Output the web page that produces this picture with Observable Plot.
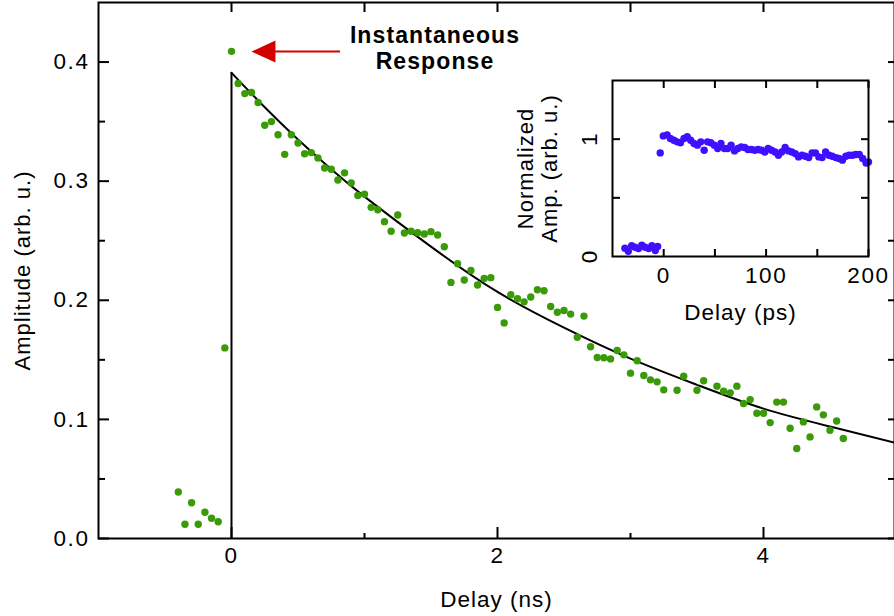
<!DOCTYPE html>
<html>
<head>
<meta charset="utf-8">
<script src="https://cdn.jsdelivr.net/npm/d3@7"></script>
<script src="https://cdn.jsdelivr.net/npm/@observablehq/plot@0.6"></script>
<style>
  html, body { margin: 0; padding: 0; background: #fff; }
  #wrap { position: relative; width: 894px; height: 616px; overflow: hidden; }
  #inset { position: absolute; left: 500px; top: 60px; }
  svg text { letter-spacing: 1px; }
  svg .annot text { letter-spacing: 1.1px; }
  svg .ticklab text { letter-spacing: 1.6px; }
</style>
</head>
<body>
<div id="wrap"><div id="main"></div><div id="inset"></div></div>
<script>
// ---------- main data (Delay in ns, Amplitude in arb. u.) ----------
const mainDelay = [-0.40,-0.35,-0.30,-0.25,-0.20,-0.15,-0.10,-0.05,0.00,0.05,0.10,0.15,0.20,0.25,0.30,0.35,0.40,0.45,0.50,0.55,0.60,0.65,0.70,0.75,0.80,0.85,0.90,0.95,1.00,1.05,1.10,1.15,1.20,1.25,1.30,1.35,1.40,1.45,1.50,1.55,1.60,1.65,1.70,1.75,1.80,1.85,1.90,1.95,2.00,2.05,2.10,2.15,2.20,2.25,2.30,2.35,2.40,2.45,2.50,2.55,2.60,2.65,2.70,2.75,2.80,2.85,2.90,2.95,3.00,3.05,3.10,3.15,3.20,3.25,3.35,3.40,3.50,3.55,3.65,3.70,3.75,3.80,3.85,3.90,3.95,4.00,4.05,4.10,4.15,4.20,4.25,4.30,4.35,4.40,4.45,4.50,4.55,4.60];
const mainAmp = [0.039,0.012,0.030,0.012,0.022,0.017,0.014,0.160,0.409,0.382,0.3735,0.3745,0.366,0.347,0.350,0.339,0.3225,0.339,0.332,0.323,0.324,0.3195,0.311,0.310,0.301,0.307,0.2985,0.288,0.289,0.278,0.276,0.266,0.258,0.2716,0.2565,0.258,0.2567,0.2556,0.2576,0.2548,0.245,0.215,0.2307,0.217,0.225,0.2128,0.2183,0.219,0.194,0.181,0.2046,0.2013,0.1987,0.2027,0.2088,0.208,0.1948,0.190,0.1914,0.1884,0.169,0.1867,0.161,0.152,0.1517,0.1508,0.1578,0.1542,0.1388,0.1492,0.1368,0.1332,0.1315,0.1248,0.1245,0.1363,0.1245,0.1324,0.1279,0.1237,0.1223,0.1279,0.1133,0.1166,0.1052,0.1052,0.0973,0.1145,0.1145,0.0926,0.0755,0.0979,0.0853,0.1105,0.1038,0.0909,0.0987,0.0839];

// fit curve
const fitDelay = [0,0.25,0.5,0.75,1,1.5,2,2.5,3,3.5,4,4.5,5];
const fitAmp   = [0.391,0.362,0.335,0.310,0.287,0.245,0.207,0.177,0.151,0.129,0.109,0.094,0.080];

// axes ticks
const xMajor = [0, 2, 4];
const xMinor = [1, 3];
const xTop = [0, 1, 2, 3, 4];
const yMajor = [0, 0.1, 0.2, 0.3, 0.4];
const yMinor = [0.05, 0.15, 0.25, 0.35];

// annotation
const annotLines = ["Instantaneous", "Response"];
const annotX = 1.53;
const annotY = [0.4221, 0.4003];
const arrowY = 0.4088;
const arrowHeadX = 0.24;
const arrowShaft = [0.30, 0.82];

// ---------- inset data (Delay in ps, Normalized amplitude) ----------
const insetDelay = [-37.9,-34.6,-31.3,-28,-24.6,-21.4,-18.1,-14.7,-11.5,-8.2,-5.9,-3.4,-0.4,3.3,6.5,9.9,13.1,16.4,19.8,23,26.3,29.6,32.9,36.2,39.5,42.8,46,49.4,52.7,55.9,59.3,62.5,65.8,69.2,72.4,75.7,79,82.3,85.6,88.9,92.2,95.4,98.8,102,105.3,108.7,112,115.2,118.6,121.8,125.1,128.5,131.7,135,138.3,141.6,144.9,148.2,151.5,154.7,158.1,161.4,164.6,168,171.2,174.5,177.9,181.1,184.4,187.7,191,194.3,197.6,200];
const insetAmp = [0.071,0.045,0.091,0.079,0.068,0.097,0.079,0.068,0.091,0.051,0.085,0.883,1.028,1.037,1.006,0.991,0.977,0.969,1.006,1.02,0.991,0.963,0.949,0.977,0.906,0.977,0.969,0.949,0.92,0.963,0.92,0.92,0.949,0.9,0.92,0.934,0.929,0.912,0.912,0.906,0.912,0.906,0.891,0.92,0.906,0.891,0.863,0.891,0.929,0.9,0.891,0.877,0.849,0.863,0.855,0.843,0.883,0.883,0.849,0.843,0.891,0.863,0.855,0.843,0.835,0.821,0.855,0.863,0.863,0.869,0.869,0.835,0.797,0.806];
const insetXTicks = [0, 50, 100, 150, 200];
const insetXLabels = [0, 100, 200];
const insetYTicks = [0.5, 1];
const insetYLabels = [0, 1];

// ---------- build ----------
const FONT = "'Liberation Sans', Arial, Helvetica, sans-serif";
const mainData = mainDelay.map((x, i) => ({x, y: mainAmp[i]}));
const fitData = fitDelay.map((x, i) => ({x, y: fitAmp[i]}));
const blank = () => "";
const RED = "#d40000";
const arrowHead = {
  draw(ctx) { ctx.moveTo(-12, 0); ctx.lineTo(12, -11); ctx.lineTo(12, 11); ctx.closePath(); }
};

const main = Plot.plot({
  width: 894, height: 616,
  marginLeft: 98, marginRight: 0, marginTop: 2, marginBottom: 78,
  x: {domain: [-1, 4.985], label: null},
  y: {domain: [0, 0.45], label: null},
  style: {fontFamily: FONT, fontSize: "22px", color: "#000", background: "transparent", overflow: "visible"},
  marks: [
    Plot.ruleX([fitData[0]], {x: "x", y1: 0, y2: "y", stroke: "#000", strokeWidth: 2}),
    Plot.line(fitData, {x: "x", y: "y", curve: "natural", stroke: "#000", strokeWidth: 2}),
    Plot.dot(mainData, {x: "x", y: "y", r: 3.7, fill: "#3a9a08", stroke: "none"}),
    Plot.frame({stroke: "#000", strokeWidth: 2}),
    Plot.axisY(yMajor, {anchor: "left", tickSize: -11, tickPadding: 20, tickFormat: d => d.toFixed(1), label: null, strokeWidth: 2, fontSize: 22.5, className: "ticklab"}),
    Plot.axisY(yMinor, {anchor: "left", tickSize: -7, tickFormat: blank, label: null, strokeWidth: 2}),
    Plot.axisY(yMajor.concat(yMinor), {anchor: "right", tickSize: -7, tickFormat: blank, label: null, strokeWidth: 2}),
    Plot.axisX(xMajor, {anchor: "bottom", tickSize: -11, tickPadding: 20, tickFormat: d => String(d), label: null, strokeWidth: 2, fontSize: 22.5, className: "ticklab"}),
    Plot.axisX(xMinor, {anchor: "bottom", tickSize: -5, tickFormat: blank, label: null, strokeWidth: 2}),
    Plot.axisX(xTop, {anchor: "top", tickSize: -9, tickFormat: blank, label: null, strokeWidth: 2}),
    Plot.text(["Delay (ns)"], {frameAnchor: "bottom", dy: 61, lineAnchor: "middle", fontSize: 22.5}),
    Plot.text(["Amplitude (arb. u.)"], {frameAnchor: "left", dx: -76, rotate: -90, lineAnchor: "middle", textAnchor: "middle", fontSize: 22}),
    Plot.ruleY([arrowY], {x1: arrowShaft[0], x2: arrowShaft[1], stroke: RED, strokeWidth: 2}),
    Plot.dot([{x: arrowHeadX, y: arrowY}], {x: "x", y: "y", symbol: arrowHead, r: 1, fill: RED, stroke: "none"}),
    Plot.text(annotLines, {x: annotX, y: (d, i) => annotY[i], text: d => d, fontWeight: "bold", fontSize: 23, lineAnchor: "middle", className: "annot"})
  ]
});
document.getElementById("main").appendChild(main);

const insetData = insetDelay.map((x, i) => ({x, y: insetAmp[i]}));
const inset = Plot.plot({
  width: 394, height: 280,
  marginLeft: 112, marginRight: 26, marginTop: 20, marginBottom: 84,
  x: {domain: [-50, 200], label: null},
  y: {domain: [0, 1.5], label: null},
  style: {fontFamily: FONT, fontSize: "22px", color: "#000", background: "transparent", overflow: "visible"},
  marks: [
    Plot.dot(insetData, {x: "x", y: "y", r: 3.7, fill: "#3f10ff", stroke: "none"}),
    Plot.frame({stroke: "#000", strokeWidth: 2}),
    Plot.axisX(insetXTicks, {anchor: "bottom", tickSize: -7, tickFormat: blank, label: null, strokeWidth: 2}),
    Plot.axisX(insetXTicks, {anchor: "top", tickSize: -7, tickFormat: blank, label: null, strokeWidth: 2}),
    Plot.axisY(insetYTicks, {anchor: "left", tickSize: -8, tickFormat: blank, label: null, strokeWidth: 2}),
    Plot.axisY(insetYTicks, {anchor: "right", tickSize: -8, tickFormat: blank, label: null, strokeWidth: 2}),
    Plot.text(insetXLabels, {x: d => d, text: d => String(d), frameAnchor: "bottom", dy: 19, lineAnchor: "middle", fontSize: 22.5, className: "ticklab"}),
    Plot.text(insetYLabels, {y: d => d, text: d => String(d), frameAnchor: "left", dx: -23, rotate: -90, lineAnchor: "middle", textAnchor: "middle", fontSize: 22.5}),
    Plot.text(["Delay (ps)"], {frameAnchor: "bottom", dy: 56, lineAnchor: "middle", fontSize: 22.5}),
    Plot.text(["Normalized\nAmp. (arb. u.)"], {frameAnchor: "left", dx: -75, rotate: -90, lineAnchor: "middle", textAnchor: "middle", lineHeight: 1.1})
  ]
});
document.getElementById("inset").appendChild(inset);
</script>
</body>
</html>
